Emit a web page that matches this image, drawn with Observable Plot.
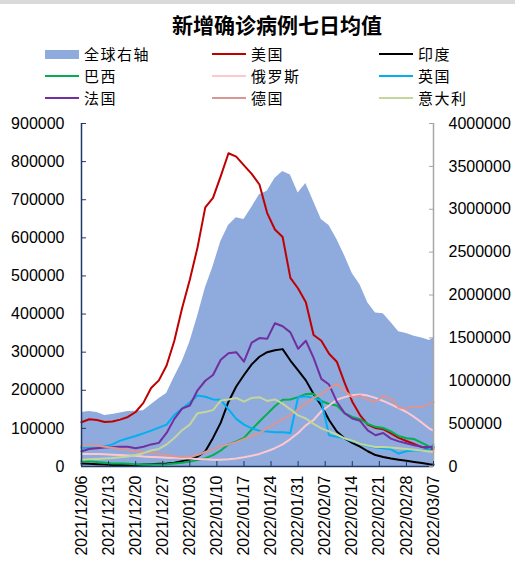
<!DOCTYPE html>
<html><head><meta charset="utf-8">
<script src="https://cdn.jsdelivr.net/npm/d3@7"></script>
<script src="https://cdn.jsdelivr.net/npm/@observablehq/plot@0.6"></script>
<style>
body{margin:0;background:#fff;}
#wrap{position:relative;width:515px;height:568px;overflow:hidden;font-family:"Liberation Sans",Arial,sans-serif;background:#fff;}
#topbar{position:absolute;left:0;top:0;width:515px;height:4px;background:#d9d9d9;}
#title{position:absolute;left:0;top:10px;width:554px;text-align:center;font-weight:bold;font-size:21px;font-family:"Noto Sans CJK SC",sans-serif;line-height:28px;color:#000;}
.lg{position:absolute;height:22px;line-height:22px;display:flex;align-items:center;font-family:"Noto Sans CJK SC",sans-serif;font-size:15px;letter-spacing:1.5px;color:#000;white-space:nowrap;}
.lg .sw{width:34px;margin-right:5px;}
#chart{position:absolute;left:0;top:110px;}
</style>
</head><body>
<div id="wrap">
  <div id="topbar"></div>
  <div id="title">新增确诊病例七日均值</div>
  <div id="legend"></div>
  <div id="chart"></div>
</div>
<script>
const dates = ["2021-12-06","2021-12-08","2021-12-10","2021-12-12","2021-12-14","2021-12-16","2021-12-18","2021-12-20","2021-12-22","2021-12-24","2021-12-26","2021-12-28","2021-12-30","2022-01-01","2022-01-03","2022-01-05","2022-01-07","2022-01-09","2022-01-11","2022-01-13","2022-01-15","2022-01-17","2022-01-19","2022-01-21","2022-01-23","2022-01-25","2022-01-27","2022-01-29","2022-01-31","2022-02-02","2022-02-04","2022-02-06","2022-02-08","2022-02-10","2022-02-12","2022-02-14","2022-02-16","2022-02-18","2022-02-20","2022-02-22","2022-02-24","2022-02-26","2022-02-28","2022-03-02","2022-03-04","2022-03-06","2022-03-07"];

// values in thousands
const globalRight = [630,640,630,595,605,625,640,645,650,720,790,850,1040,1220,1450,1750,2080,2330,2620,2810,2900,2880,3020,3170,3210,3360,3440,3400,3190,3300,3090,2880,2810,2650,2460,2250,2120,1910,1790,1780,1680,1570,1550,1520,1500,1470,1500];
const usa = [116,124,122,117,118,123,130,143,167,206,226,265,330,415,490,575,680,705,762,822,813,790,768,740,665,622,602,495,467,431,345,330,296,275,220,170,135,110,101,98,87,75,67,59,51,47,46];
const india = [8,7,6,5,4,4,4,4,5,6,7,8,10,14,18,26,40,75,115,170,210,240,268,288,300,305,308,278,252,226,190,160,122,92,74,62,52,40,30,25,21,18,15,12,9,6,5];
const brazil = [14,14,12,10,8,8,7,6,5,5,5,6,8,10,13,17,22,30,42,58,66,75,97,118,138,158,175,176,182,190,191,172,164,160,140,130,124,112,104,101,92,80,74,72,62,52,50];
const russia = [33,33,33,32,31,30,29,28,26,25,24,23,23,22,21,20,19,18,18,19,21,24,28,33,40,48,58,72,88,108,122,145,160,175,182,187,189,186,180,172,163,153,143,130,115,99,94];
const uk = [49,49,49,53,58,68,74,80,87,94,102,110,135,152,168,186,183,176,175,150,125,110,100,94,92,90,90,88,182,184,180,172,82,78,74,66,60,54,50,48,45,34,40,42,42,46,58];
const france = [40,46,48,50,51,52,52,48,52,58,62,88,125,152,160,200,225,240,280,297,300,275,325,337,335,376,368,352,309,330,285,230,215,170,140,126,120,95,82,88,73,66,61,56,52,51,52];
const germany = [53,56,55,52,49,46,43,40,38,36,33,30,27,25,26,30,38,45,54,58,64,72,80,88,100,112,125,135,150,165,180,190,205,217,199,182,186,175,170,185,178,155,153,156,156,165,169];
const italy = [18,19,20,21,22,24,26,30,35,42,46,58,75,95,110,140,143,148,173,176,180,170,180,182,172,176,165,150,134,126,112,100,92,84,74,68,60,55,51,51,50,48,46,44,42,39,38];

const seriesNames = ["全球右轴","美国","印度","巴西","俄罗斯","英国","法国","德国","意大利"];
const seriesColors = ["#8faadc","#c00000","#000000","#00b050","#ffc7ce","#00b0f0","#7030a0","#d99694","#c3d69b"];
const leftTicks = [0,100000,200000,300000,400000,500000,600000,700000,800000,900000];
const rightTicks = [0,500000,1000000,1500000,2000000,2500000,3000000,3500000,4000000];
const xTicks = ["2021-12-06","2021-12-13","2021-12-20","2021-12-27","2022-01-03","2022-01-10","2022-01-17","2022-01-24","2022-01-31","2022-02-07","2022-02-14","2022-02-21","2022-02-28","2022-03-07"];

const RATIO = 900000 / 4000000;
const lineSeries = [usa, india, brazil, russia, uk, france, germany, italy];

const rows = dates.map((d, i) => ({date: new Date(d + "T00:00:00Z"), global: globalRight[i] * 1000}));
const lineRows = [];
lineSeries.forEach((arr, s) => arr.forEach((v, i) => lineRows.push({date: new Date(dates[i] + "T00:00:00Z"), value: v * 1000, name: seriesNames[s + 1]})));

// legend
const legend = document.getElementById("legend");
const colX = [45, 212, 379], rowY = [43, 65, 87];
seriesNames.forEach((n, i) => {
  const el = document.createElement("div");
  el.className = "lg";
  el.style.left = colX[i % 3] + "px";
  el.style.top = rowY[Math.floor(i / 3)] + "px";
  const sw = document.createElement("div");
  sw.className = "sw";
  sw.style.height = i === 0 ? "9px" : "2px";
  sw.style.background = seriesColors[i];
  el.appendChild(sw);
  el.appendChild(document.createTextNode(n));
  legend.appendChild(el);
});

const x0 = new Date("2021-12-06T00:00:00Z"), x1 = new Date("2022-03-07T00:00:00Z");
const chart = Plot.plot({
  width: 515, height: 458,
  marginTop: 13, marginBottom: 102, marginLeft: 81, marginRight: 82,
  style: {fontFamily: '"Liberation Sans", Arial, sans-serif', fontSize: "16px", color: "#000", background: "transparent", overflow: "visible"},
  x: {type: "utc", domain: [x0, x1]},
  y: {domain: [0, 900000]},
  color: {domain: seriesNames.slice(1), range: seriesColors.slice(1)},
  marks: [
    Plot.areaY(rows, {x: "date", y: d => d.global * RATIO, fill: seriesColors[0], curve: "linear"}),
    Plot.lineY(lineRows, {x: "date", y: "value", stroke: "name", z: "name", strokeWidth: 2}),
    Plot.ruleX([x0], {stroke: "#1f3864", strokeWidth: 1.5}),
    Plot.ruleX([x1], {stroke: "#a6a6a6", strokeWidth: 1.5}),
    Plot.ruleY([0], {stroke: "#1f3864", strokeWidth: 1.5}),
    Plot.axisY({ticks: leftTicks, tickFormat: d => String(d), tickSize: -5, tickPadding: 22, stroke: "#1f3864", fill: "#000", label: null}),
    Plot.axisY({anchor: "right", ticks: rightTicks.map(v => v * RATIO), tickFormat: v => String(Math.round(v / RATIO)), tickSize: -5, tickPadding: 20, stroke: "#a6a6a6", fill: "#000", label: null}),
    Plot.axisX({ticks: xTicks.map(s => new Date(s + "T00:00:00Z")), tickFormat: d3.utcFormat("%Y/%m/%d"), tickRotate: -90, tickSize: -5, tickPadding: 14, stroke: "#1f3864", fill: "#000", label: null})
  ]
});
document.getElementById("chart").appendChild(chart);
</script>
</body></html>
